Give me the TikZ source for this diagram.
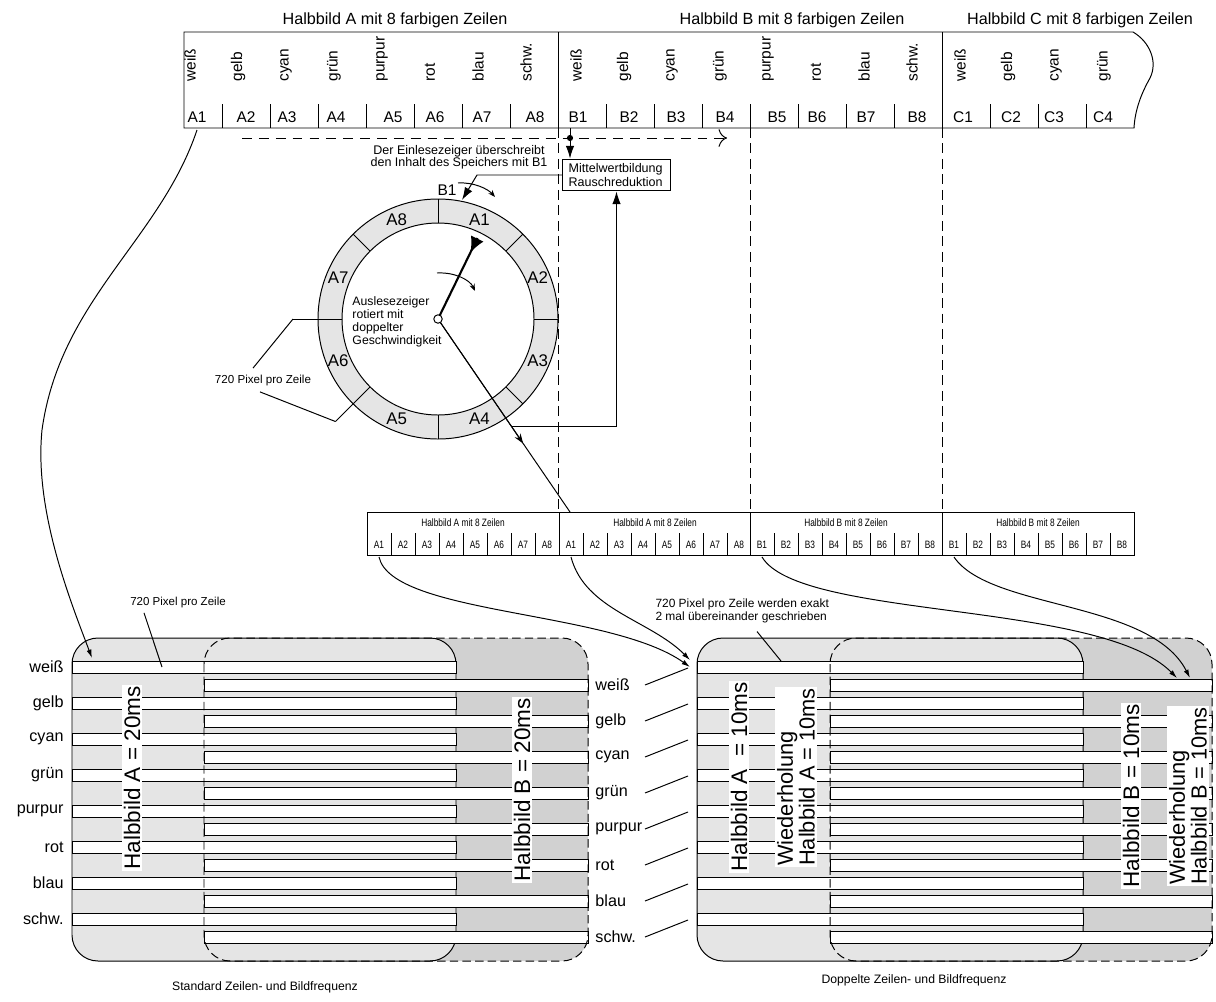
\documentclass[tikz,border=0pt]{standalone}
\usepackage{graphicx}
\usepackage{fontspec}
\setmainfont{Liberation Sans}
\usetikzlibrary{shapes,arrows,arrows.meta,positioning,calc}

\definecolor{hellgrau}{gray}{0.9}
\definecolor{dunkelgrau}{gray}{0.82}
\tikzstyle{line} = [draw, -{Latex[length=6pt,width=3.5pt]}]
\tikzstyle{pfeil} = [draw, -{Latex[length=9pt,width=6pt]}]
\tikzstyle{farbe} = [rotate=90, anchor=west, inner sep=0pt, font=\fontsize{11}{12}\selectfont]
\tikzstyle{feld} = [inner sep=0pt, font=\fontsize{11}{13}\selectfont]
\tikzstyle{klein} = [inner sep=0pt, font=\fontsize{7.6}{8}\selectfont]
\tikzstyle{notiz} = [inner sep=0pt, align=left, font=\fontsize{8.7}{9.1}\selectfont]
\tikzstyle{zeile} = [draw, fill=white]
\tikzstyle{reihe} = [inner sep=0pt, font=\fontsize{11.5}{13}\selectfont]
\tikzstyle{dauer} = [rotate=90, fill=white, inner sep=1.2pt, align=left, font=\fontsize{16}{13}\selectfont]
\tikzstyle{strich} = [dash pattern=on 7pt off 4pt]
\newcommand{\schmal}[1]{\scalebox{0.78}[1]{#1}}

\begin{document}
\begin{tikzpicture}[x=0.025cm, y=-0.025cm, line width=0.7pt]
\useasboundingbox (0,0) rectangle (1216,1001);

% Speicher mit den Halbbildern A, B, C
\node[font=\fontsize{11.5}{13}\selectfont] (titelA) at (395,20) {Halbbild A mit 8 farbigen Zeilen};
\node[font=\fontsize{11.5}{13}\selectfont] (titelB) at (792,20) {Halbbild B mit 8 farbigen Zeilen};
\node[font=\fontsize{11.5}{13}\selectfont] (titelC) at (1080,20) {Halbbild C mit 8 farbigen Zeilen};
\draw (184,32) -- (1133,32) .. controls (1150,42) and (1158,62) .. (1150,78)
  .. controls (1141,94) and (1135,110) .. (1134,128) -- (184,128) -- cycle;
\draw (558,32) -- (558,128) (942,32) -- (942,128);
\foreach \x in {222,270,318,366,414,462,510,606,654,702,750,798,846,894,990,1038,1086}
  \draw (\x,104) -- (\x,128);
\foreach \f [count=\i from 0] in {weiß,gelb,cyan,grün,purpur,rot,blau,schw.} {
  \node[farbe] (fA\i) at (190+48*\i,82) {\f};
  \node[farbe] (fB\i) at (576+48*\i,82) {\f};
}
\foreach \f [count=\i from 0] in {weiß,gelb,cyan,grün}
  \node[farbe] (fC\i) at (960+48*\i,82) {\f};
\foreach \n/\x in {1/197,2/246,3/287,4/336,5/393,6/435,7/482,8/535}
  \node[feld] (A\n) at (\x,117) {A\n};
\foreach \n/\x in {1/578,2/629,3/676,4/725,5/777,6/817,7/866,8/917}
  \node[feld] (B\n) at (\x,117) {B\n};
\foreach \n/\x in {1/963,2/1011,3/1054,4/1103}
  \node[feld] (C\n) at (\x,117) {C\n};

% Einlesezeiger
\coordinate (ein0) at (242,138);
\coordinate (ein1) at (727,138);
\draw[dash pattern=on 7pt off 5pt, -{To[length=6pt]}] (ein0) -- (ein1);
\draw[strich] (558,128) -- (558,512);
\draw[strich] (750,128) -- (750,512);
\draw[strich] (942,128) -- (942,512);
\node[draw, text width=68pt, inner xsep=4.5pt, minimum height=22.7pt, align=left,
  font=\fontsize{8.9}{9.5}\selectfont] (mittel) at (616.5,175) {Mittelwertbildung\\Rauschreduktion};
\coordinate (punkt) at (570,138);
\draw (570,128) -- (punkt);
\fill (punkt) circle (2.2pt);
\path[pfeil] (punkt) -- (punkt |- mittel.north);
\node[align=center, inner sep=0pt, font=\fontsize{8.9}{8.4}\selectfont] (einlese) at (459,157)
  {Der Einlesezeiger überschreibt\\den Inhalt des Speichers mit B1};
\coordinate (ringB1) at (462,200);
\path[pfeil] (mittel.west) -- (477,175) -- (ringB1);

% Speicherring
\coordinate (mitte) at (438,319);
\fill[hellgrau, even odd rule] (mitte) circle (120) (mitte) circle (96);
\draw (mitte) circle (120) (mitte) circle (96);
\foreach \w in {0,45,90,225,270,315}
  \draw ($(mitte)+(\w:96)$) -- ($(mitte)+(\w:120)$);
\draw ($(mitte)+(180:96)$) -- ($(mitte)+(180:145)$) coordinate (rand1);
\draw ($(mitte)+(135:96)$) -- ($(mitte)+(135:145)$) coordinate (rand2);
\foreach \n/\w in {1/-67.5,2/-22.5,3/22.5,4/67.5,5/112.5,6/157.5,7/-157.5,8/-112.5}
  \node[feld, font=\fontsize{12}{13}\selectfont] (ring\n) at ($(mitte)+(\w:108)$) {A\n};
\node[feld] (b1ring) at (447,190) {B1};
\draw[-{Stealth[length=5pt]}] (458,183) .. controls (474,182) and (488,189) .. (495,197);
\draw[-{Stealth[length=5pt]}] (437,273) .. controls (455,272) and (470,280) .. (475,291);
\coordinate (unten) at (570,512);
\draw (mitte) -- (unten);
\draw[-{Stealth[length=7pt,width=5pt]}] (mitte) -- ($(mitte)!0.645!(unten)$);
\draw[line width=1.5pt] (mitte) -- ($(mitte)+(-64:90)$) coordinate (zeiger);
\draw[line width=1.2pt, -{Latex[length=11pt,width=10pt]}] (zeiger) -- ($(mitte)+(-64:74)$);
\draw[fill=white] (mitte) circle (3pt);
\node[notiz, anchor=west] (ausl) at (352,322) {Auslesezeiger\\rotiert mit\\doppelter\\Geschwindigkeit};
\node[font=\fontsize{8.25}{10}\selectfont, inner sep=0pt] (pix1) at (263,380) {720 Pixel pro Zeile};
\draw ($(pix1.north)+(-10,-6)$) -- (rand1);
\draw ($(pix1.south)+(-3,6)$) -- (rand2);
\coordinate (ausA4) at (511,426);
\path[pfeil] (ausA4) -| (mittel.south);

% Speicher unten, doppelte Frequenz
\draw (367,512) rectangle (1134,555);
\foreach \sx/\hb/\nr in {367/A/1,559/A/2,750/B/3,942/B/4} {
  \draw (\sx,512) -- (\sx,555);
  \foreach \i in {1,...,7} \draw (\sx+24*\i,533) -- (\sx+24*\i,555);
  \foreach \i in {1,...,8} \node[klein] (u\nr\hb\i) at (\sx+24*\i-12,545) {\schmal{\hb\i}};
  \node[klein] (h\nr) at (\sx+96,523) {\schmal{Halbbild \hb\ mit 8 Zeilen}};
}

% Bildschirm: Standard und doppelte Frequenz
\foreach \axa/\axe/\bxa/\bxe in {72/456/204/588,697/1083/830/1212} {
  \fill[dunkelgrau, rounded corners=0.65cm] (\bxa,638) rectangle (\bxe,961);
  \draw[fill=hellgrau, rounded corners=0.65cm] (\axa,638) rectangle (\axe,961);
  \foreach \z in {0,...,7} {
    \draw[zeile] (\axa,661.7+36*\z) rectangle (\axe,673.3+36*\z);
    \draw[zeile] (\bxa,679.3+36*\z) rectangle (\bxe,691+36*\z);
  }
  \draw[dash pattern=on 6pt off 3pt, rounded corners=0.65cm] (\bxa,638) rectangle (\bxe,961);
}
\node[dauer] (dauerA) at (132,778) {Halbbild A = 20ms};
\node[dauer] (dauerB) at (522,790) {Halbbild B = 20ms};
\node[dauer] (dauerA2) at (739,777) {Halbbild A~ = 10ms};
\node[dauer, font=\fontsize{15.5}{12.5}\selectfont] (wiedA) at (796,777) {Wiederholung\\Halbbild A = 10ms};
\node[dauer] (dauerB2) at (1131,796) {Halbbild B = 10ms};
\node[dauer, font=\fontsize{15.5}{12.5}\selectfont] (wiedB) at (1188,796) {Wiederholung\\Halbbild B = 10ms};
\coordinate (kx) at (645,0);
\foreach \f [count=\z from 0] in {weiß,gelb,cyan,grün,purpur,rot,blau,schw.} {
  \node[reihe, anchor=east] (links\z) at (64,667+36*\z) {\f};
  \node[reihe, anchor=west] (zeileB\z) at (595,685+36*\z) {\f};
  \draw (zeileB\z.east -| kx) -- (688,668+36*\z);
}
\node[font=\fontsize{8.2}{10}\selectfont, inner sep=0pt] (pix2) at (178,603) {720 Pixel pro Zeile};
\draw ($(pix2.south)+(-34,4)$) -- (162,667);
\node[font=\fontsize{8.5}{9.2}\selectfont, inner sep=0pt, align=left, anchor=west] (pix3) at (655,611)
  {720 Pixel pro Zeile werden exakt\\2 mal übereinander geschrieben};
\draw ($(pix3.south west)+(102,8)$) -- (781,661);
\node[font=\fontsize{8.7}{10}\selectfont] (cap1) at (265,987) {Standard Zeilen- und Bildfrequenz};
\node[font=\fontsize{8.7}{10}\selectfont] (cap2) at (914,980) {Doppelte Zeilen- und Bildfrequenz};

% Verbindungen zu den Bildschirmen
\coordinate (obenrand) at (0,130);
\coordinate (kante) at (0,557);
\coordinate (zielL) at (92,658);
\coordinate (zielA1) at (690,667);
\coordinate (zielA2) at (690,660);
\coordinate (zielB1) at (1177,678);
\coordinate (zielB2) at (1190,678);
\path[line] (A1 |- obenrand) .. controls (160,240) and (60,300) .. (42,430)
  .. controls (34,510) and (70,600) .. (zielL);
\path[line] (u1A1 |- kante) .. controls (392,615) and (610,610) .. (zielA1);
\path[line] (u2A1 |- kante) .. controls (585,610) and (650,620) .. (zielA2);
\path[line] (u3B1 |- kante) .. controls (800,620) and (1100,600) .. (zielB1);
\path[line] (u4B1 |- kante) .. controls (990,610) and (1150,600) .. (zielB2);
\end{tikzpicture}
\end{document}
